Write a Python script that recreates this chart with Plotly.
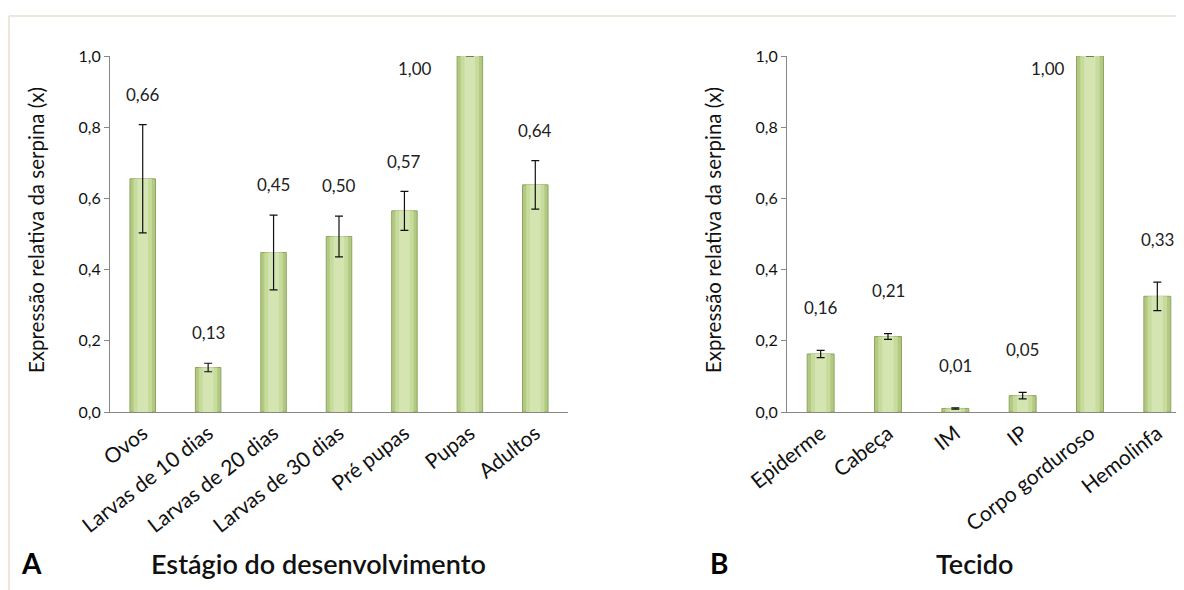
import plotly.graph_objects as go

# Panel A data
stages = ["Ovos", "Larvas de 10 dias", "Larvas de 20 dias", "Larvas de 30 dias",
          "Pré pupas", "Pupas", "Adultos"]
stage_vals = [0.66, 0.13, 0.45, 0.50, 0.57, 1.00, 0.64]
stage_bar = [0.655, 0.125, 0.448, 0.493, 0.565, 1.00, 0.638]
stage_err = [0.152, 0.012, 0.105, 0.057, 0.055, 0.0, 0.068]

# Panel B data
tissues = ["Epiderme", "Cabeça", "IM", "IP", "Corpo gorduroso", "Hemolinfa"]
tissue_vals = [0.16, 0.21, 0.01, 0.05, 1.00, 0.33]
tissue_bar = [0.163, 0.212, 0.010, 0.046, 1.00, 0.325]
tissue_err = [0.010, 0.008, 0.002, 0.009, 0.0, 0.040]

yticks = [0.0, 0.2, 0.4, 0.6, 0.8, 1.0]

FONT = "Lato, 'Open Sans', sans-serif"
AXC = "#878787"

W, H = 1184, 590
OFF = 8  # page body margin


def px(x):
    return (x - OFF) / W


def py(y):
    return 1 - (y - OFF) / H


fig = go.Figure()

# three stacked widths to imitate the rounded/shaded bars
layers = [(1.0, "#b2c982", "#8ea55f", 1), (0.72, "#c6db9c", None, 0), (0.42, "#d4e5b2", None, 0)]

for cats, bars, errs, xa, ya, bw in [
        (stages, stage_bar, stage_err, "x", "y", 0.39),
        (tissues, tissue_bar, tissue_err, "x2", "y2", 0.40)]:
    for i, (frac, col, edge, lw) in enumerate(layers):
        fig.add_trace(go.Bar(
            x=cats, y=bars, width=bw * frac,
            marker=dict(color=col, line=dict(color=edge or col, width=lw)),
            xaxis=xa, yaxis=ya, showlegend=False, hoverinfo="skip"))
    fig.add_trace(go.Bar(
        x=cats, y=bars, width=bw,
        marker=dict(color="rgba(0,0,0,0)", line=dict(width=0)),
        error_y=dict(type="data", array=errs, color="#111", thickness=1.2, width=4),
        xaxis=xa, yaxis=ya, showlegend=False, hoverinfo="skip"))

ann = []


def fmt(v):
    return f"{v:.2f}".replace(".", ",")


for cats, vals, bars, errs, xa, ya, off, lshift in [
        (stages, stage_vals, stage_bar, stage_err, "x", "y", 0.085, -36),
        (tissues, tissue_vals, tissue_bar, tissue_err, "x2", "y2", 0.12, -23)]:
    for c, v, b, e in zip(cats, vals, bars, errs):
        top = b + e + off
        if top > 1.0:
            ann.append(dict(x=c, y=b, xref=xa, yref=ya, text=fmt(v), showarrow=False,
                            xanchor="right", yanchor="top", xshift=lshift, yshift=0,
                            font=dict(family=FONT, size=17, color="#222")))
        else:
            ann.append(dict(x=c, y=top, xref=xa, yref=ya, text=fmt(v), showarrow=False,
                            xanchor="center", yanchor="middle",
                            font=dict(family=FONT, size=17, color="#222")))

ytitle = "Expressão relativa da serpina (x)"
for xc in [36, 713]:
    ann.append(dict(x=px(xc), y=py(230), xref="paper", yref="paper", text=ytitle,
                    textangle=-90, showarrow=False, xanchor="center", yanchor="middle",
                    font=dict(family=FONT, size=20.5, color="#111")))

for letter, xl in [("A", 19), ("B", 708)]:
    ann.append(dict(x=px(xl), y=py(563), xref="paper", yref="paper", text=f"<b>{letter}</b>",
                    showarrow=False, xanchor="left", yanchor="middle",
                    font=dict(family=FONT, size=28, color="#000")))
for ttl, xc in [("Estágio do desenvolvimento", 318), ("Tecido", 974)]:
    ann.append(dict(x=px(xc), y=py(563), xref="paper", yref="paper", text=ttl,
                    showarrow=False, xanchor="center", yanchor="middle",
                    font=dict(family=FONT, size=27, color="#111", weight=600)))

yax = dict(range=[0, 1.0], tickvals=yticks, tickformat=".1f", showgrid=False,
           zeroline=False, showline=True, linecolor=AXC, linewidth=1,
           ticks="outside", ticklen=5, tickcolor=AXC, automargin=False,
           tickfont=dict(family=FONT, size=16, color="#111"),
           domain=[py(412), py(56)])
xax = dict(showgrid=False, zeroline=False, showline=True, linecolor=AXC, linewidth=1,
           ticks="", tickangle=-38, automargin=False,
           tickfont=dict(family=FONT, size=21, color="#111"))

fig.update_layout(
    width=W, height=H, margin=dict(l=0, r=0, t=0, b=0, autoexpand=False),
    paper_bgcolor="white", plot_bgcolor="white",
    separators=",.",
    barmode="overlay",
    xaxis=dict(**xax, domain=[px(110), px(568)], range=[-0.5, 6.5]),
    yaxis=dict(**yax, anchor="x"),
    xaxis2=dict(**xax, domain=[px(787), 1.0], range=[-0.5, 5.515]),
    yaxis2=dict(**yax, anchor="x2"),
    annotations=ann,
    shapes=[
        dict(type="line", xref="paper", yref="paper", x0=px(9), x1=1.0, y0=py(16), y1=py(16),
             line=dict(color="#ece7da", width=2)),
        dict(type="line", xref="paper", yref="paper", x0=px(9), x1=px(9), y0=0, y1=py(16),
             line=dict(color="#ece7da", width=2)),
    ],
)

fig.write_html("out.html", config={"displayModeBar": False})
